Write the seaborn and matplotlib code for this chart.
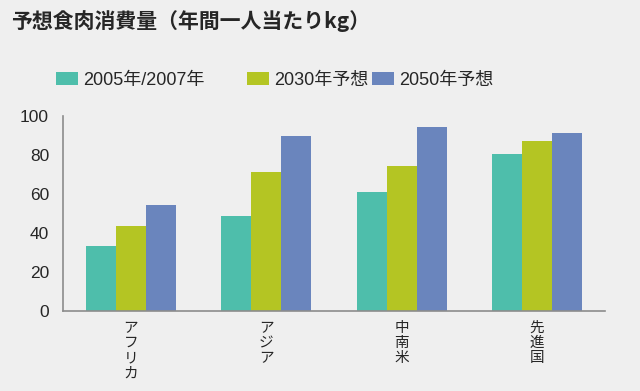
import matplotlib
matplotlib.use("Agg")
import matplotlib.pyplot as plt
import seaborn as sns
import pandas as pd

categories = ["アフリカ", "アジア", "中南米", "先進国"]
series_names = ["2005年/2007年", "2030年予想", "2050年予想"]
v2005 = [33.5, 48.6, 61.0, 80.4]
v2030 = [43.7, 71.1, 74.5, 87.0]
v2050 = [54.2, 89.6, 94.2, 91.3]
yticks = [0, 20, 40, 60, 80, 100]
title = "予想食肉消費量（年間一人当たりkg）"
colors = ["#4ebeab", "#b4c523", "#6a85bd"]

rows = []
for name, vals in zip(series_names, [v2005, v2030, v2050]):
    for c, v in zip(categories, vals):
        rows.append({"cat": c, "series": name, "value": v})
df = pd.DataFrame(rows)

sns.set_style("white")
plt.rcParams["font.family"] = ["Liberation Sans", "Noto Sans CJK JP"]

bg = "#efefef"
fig = plt.figure(figsize=(6.4, 3.91), dpi=100, facecolor=bg)
ax = fig.add_axes([0.0984, 0.2046, 0.8466, 0.4984])
ax.set_facecolor(bg)

sns.barplot(data=df, x="cat", y="value", hue="series", palette=colors,
            saturation=1, width=0.664, ax=ax, legend=True, linewidth=0)

ax.set_xlim(-0.5, 3.5)
ax.set_ylim(0, 100)
ax.set_yticks(yticks)
ax.set_yticklabels([str(t) for t in yticks], fontsize=12.5)
ax.set_xlabel("")
ax.set_ylabel("")
ax.set_xticks(range(len(categories)))
ax.set_xticklabels(["\n".join(c) for c in categories], fontsize=10.5,
                   family=["Noto Sans CJK JP"], linespacing=1.12, va="top")
ax.tick_params(axis="both", length=0)
ax.tick_params(axis="x", pad=7)
ax.tick_params(axis="y", pad=10)
for s in ["top", "right"]:
    ax.spines[s].set_visible(False)
for s in ["left", "bottom"]:
    ax.spines[s].set_color("#8c8c8c")
    ax.spines[s].set_linewidth(1.2)

handles, labels = ax.get_legend_handles_labels()
ax.get_legend().remove()
leg1 = fig.legend(handles[:1], labels[:1], loc="center left",
                  bbox_to_anchor=(0.062, 0.795), frameon=False, fontsize=13,
                  handlelength=1.2, handleheight=0.75, handletextpad=0.3)
leg2 = fig.legend(handles[1:], labels[1:], loc="center left", ncol=2,
                  bbox_to_anchor=(0.361, 0.795), frameon=False, fontsize=13,
                  handlelength=1.2, handleheight=0.75, handletextpad=0.3,
                  columnspacing=0.2)

fig.text(0.017, 0.945, title, fontsize=15, fontweight="bold",
         family=["Noto Sans CJK JP"], va="center", ha="left")

fig.savefig("out.png", dpi=100, facecolor=bg)
